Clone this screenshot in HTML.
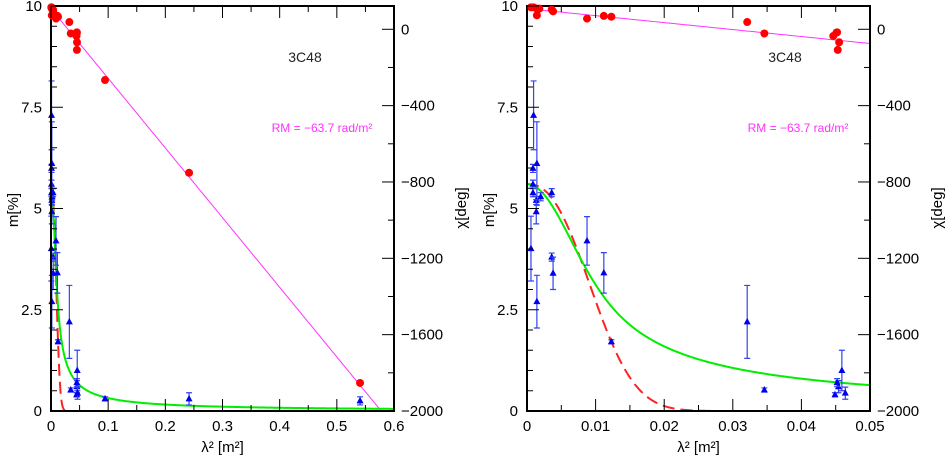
<!DOCTYPE html>
<html><head><meta charset="utf-8"><style>
body{margin:0;background:#fff;width:948px;height:456px;overflow:hidden}
svg{display:block}
text{font-family:"Liberation Sans",sans-serif}
</style></head><body>
<svg id="chart" width="948" height="456" xmlns="http://www.w3.org/2000/svg">
<text x="305" y="62" font-size="14" text-anchor="middle" fill="#222">3C48</text>
<text x="785" y="62" font-size="14" text-anchor="middle" fill="#222">3C48</text>
<text x="322" y="132" font-size="12" font-family="Liberation Mono,monospace" text-anchor="middle" fill="#ff33ff">RM = −63.7 rad/m²</text>
<text x="798" y="132" font-size="12" font-family="Liberation Mono,monospace" text-anchor="middle" fill="#ff33ff">RM = −63.7 rad/m²</text>
</svg>
<script>
// data
const blueL2 = [0.00058,0.00096,0.00087,0.00087,0.00087,0.00144,0.00135,0.00135,0.00144,0.0020,0.0036,0.0036,0.0038,0.00875,0.0112,0.0123,0.0321,0.0346,0.0449,0.0454,0.0459,0.0464,0.0452,0.0945,0.2415,0.5406];
const blueM  = [4.01,7.3,5.99,5.39,5.6,6.11,5.2,4.92,2.7,5.29,5.39,3.8,3.4,4.2,3.41,1.71,2.2,0.52,0.4,0.6,1.0,0.44,0.7,0.3,0.3,0.25];
const blueErr= [0.8,0.85,0.1,0.1,0.1,1.03,0.1,0.3,0.65,0.1,0.1,0.1,0.4,0.6,0.5,0.05,0.9,0.05,0.05,0.15,0.5,0.15,0.1,0.05,0.15,0.1];
const redL2 = [0.00058,0.00096,0.00144,0.00144,0.0018,0.0036,0.0038,0.00875,0.0112,0.0123,0.0321,0.0346,0.04465,0.0451,0.0452,0.0455,0.0453,0.0945,0.2415,0.5406];
const redChi= [115,115,108,73,108,103,94,56,70,66,38,-22,-35,-18,-16,-68,-108,-266,-752,-1853];
const rm = -63.7, chi0 = 108, m0 = 5.6;
const xTicksL = ["0","0.1","0.2","0.3","0.4","0.5","0.6"];
const xTicksR = ["0","0.01","0.02","0.03","0.04","0.05"];
const yTicks = ["0","2.5","5","7.5","10"];
const chiTicks = ["0","−400","−800","−1200","−1600","−2000"];

const svg=document.getElementById('chart');
const NS='http://www.w3.org/2000/svg';
function mk(tag,attrs,parent){const e=document.createElementNS(NS,tag);for(const k in attrs)e.setAttribute(k,attrs[k]);(parent||svg).appendChild(e);return e;}
const Y0=411,Y1=6,CHIMAX=122,CHIMIN=-2000;
const ym=m=>Y0-(m/10)*(Y0-Y1);
const yc=c=>Y0-(c-CHIMIN)/(CHIMAX-CHIMIN)*(Y0-Y1);
const green=l=>{const S=Math.pow(l/0.0057,2);return S<1e-9?m0:m0*Math.sqrt((1-Math.exp(-S))/S);};
const redc=l=>m0*Math.exp(-Math.pow(l/0.01145,2.4));

function panel(name,X0,X1,xmax,xlabels,xminor){
  const xs=l=>X0+l/xmax*(X1-X0);
  const g=mk('g',{});
  const cid=name+'clip';
  const cp=mk('clipPath',{id:cid},g);mk('rect',{x:X0,y:Y1,width:X1-X0,height:Y0-Y1},cp);
  const pg=mk('g',{'clip-path':'url(#'+cid+')'},g);
  let d='';for(let i=0;i<=100;i++){const l=xmax*i/100;d+=(i?'L':'M')+xs(l).toFixed(2)+','+yc(chi0+rm*l*180/Math.PI).toFixed(2);}
  const rl=mk('path',{d:d,stroke:'#ff33ff','stroke-width':1,fill:'none'},pg);
  
  blueL2.forEach((l,i)=>{if(l>xmax)return;const x=xs(l),y=ym(blueM[i]),t=ym(blueM[i]+blueErr[i]),b=ym(blueM[i]-blueErr[i]);
    const e=mk('path',{d:`M${x},${t}V${b}M${x-3},${t}h6M${x-3},${b}h6`,stroke:'#3344ee','stroke-width':1.2,fill:'none'},g);
    
    const p=mk('path',{d:`M${x},${y-4}L${x+3.5},${y+2.5}L${x-3.5},${y+2.5}Z`,fill:'#0000ee'},g);
    });
  let dg='',dr='';for(let i=0;i<=400;i++){const l=xmax*i/400;dg+=(i?'L':'M')+xs(l).toFixed(2)+','+ym(green(l)).toFixed(2);dr+=(i?'L':'M')+xs(l).toFixed(2)+','+ym(redc(l)).toFixed(2);}
  const rc=mk('path',{d:dr,stroke:'#ff2222','stroke-width':2,fill:'none','stroke-dasharray':'12,6'},pg);
  
  const gc=mk('path',{d:dg,stroke:'#00ee00','stroke-width':2,fill:'none'},pg);
  
  mk('rect',{x:X0,y:Y1,width:X1-X0,height:Y0-Y1,fill:'none',stroke:'#000','stroke-width':2},g);
  redL2.forEach((l,i)=>{if(l>xmax)return;const c=mk('circle',{cx:xs(l),cy:yc(redChi[i]),r:4,fill:'#ff0000'},g);
    });
  const nmin=Math.round(xmax/xminor);
  for(let i=0;i<=nmin;i++){const x=xs(i*xminor);const major=i%2===0;const L=major?12:6;
    mk('line',{x1:x,y1:Y0,x2:x,y2:Y0-L,stroke:'#000'},g);mk('line',{x1:x,y1:Y1,x2:x,y2:Y1+L,stroke:'#000'},g);}
  xlabels.forEach((s,i)=>{const t=mk('text',{x:xs(i*xmax/(xlabels.length-1)),y:431,'font-size':15,'text-anchor':'middle'},g);t.textContent=s;
    });
  for(let i=0;i<=20;i++){const y=ym(i*0.5);const L=i%5===0?12:6;mk('line',{x1:X0,y1:y,x2:X0+L,y2:y,stroke:'#000'},g);}
  yTicks.forEach((s,i)=>{const t=mk('text',{x:X0-9,y:ym(i*2.5)+5,'font-size':15,'text-anchor':'end'},g);t.textContent=s;
    });
  for(let c=-2000;c<=100;c+=200){const y=yc(c);const L=c%400===0?12:6;mk('line',{x1:X1,y1:y,x2:X1-L,y2:y,stroke:'#000'},g);}
  chiTicks.forEach((s,i)=>{const t=mk('text',{x:X1+7,y:yc(-400*i)+5,'font-size':15},g);t.textContent=s;
    });
  const xl=mk('text',{x:(X0+X1)/2,y:452,'font-size':15,'text-anchor':'middle','font-family':'Liberation Serif,serif'},g);xl.textContent='λ² [m²]';
  
  const yl=mk('text',{x:0,y:0,'font-size':15,'text-anchor':'middle','font-family':'Liberation Serif,serif',transform:`translate(${X0-33},210) rotate(-90)`},g);yl.textContent='m[%]';
  
  const cl=mk('text',{x:0,y:0,'font-size':15,'text-anchor':'middle','font-family':'Liberation Serif,serif',transform:`translate(${X1+72},208) rotate(-90)`},g);cl.textContent='χ[deg]';
  
}
panel('left',51,394,0.6,xTicksL,0.05);
panel('right',527,870,0.05,xTicksR,0.005);
</script>
</body></html>
